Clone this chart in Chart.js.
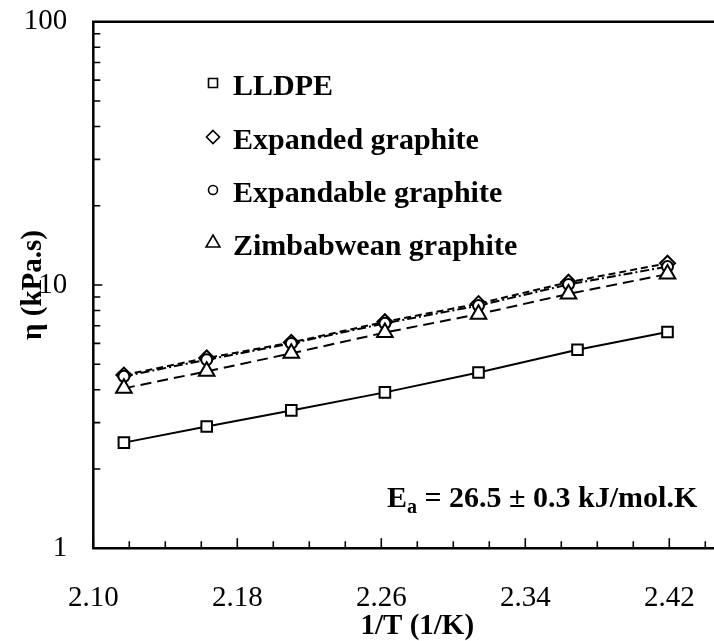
<!DOCTYPE html>
<html>
<head>
<meta charset="utf-8">
<script src="https://cdn.jsdelivr.net/npm/chart.js@4/dist/chart.umd.min.js"></script>
<style>
  html, body { margin: 0; padding: 0; background: #fff; overflow: hidden; }
  #wrap { width: 800px; height: 641px; }
</style>
</head>
<body>
<div id="wrap"><canvas id="c" width="800" height="641"></canvas></div>
<script>
// Reciprocal temperature (1000/T, 1/K) for each measurement
const invTemp      = [2.117, 2.163, 2.210, 2.262, 2.314, 2.364, 2.419];
const invTempLLDPE = [2.117, 2.163, 2.210, 2.262, 2.314, 2.369, 2.419];

// Zero-shear viscosity, kPa.s
const lldpe      = [2.52, 2.90, 3.34, 3.91, 4.65, 5.68, 6.63];
const expanded   = [4.55, 5.28, 6.05, 7.25, 8.50, 10.25, 12.10];
const expandable = [4.50, 5.20, 6.00, 7.15, 8.35, 10.05, 11.75];
const zimbabwean = [4.05, 4.70, 5.50, 6.60, 7.75, 9.25, 11.00];

const seriesNames = ['LLDPE', 'Expanded graphite', 'Expandable graphite', 'Zimbabwean graphite'];
const xTickLabels = ['2.10', '2.18', '2.26', '2.34', '2.42'];
const yTickLabels = ['1', '10', '100'];

const SERIF = '"Liberation Serif", "Times New Roman", serif';

const pts = (xs, ys) => xs.map((x, i) => ({ x: x, y: ys[i] }));

function markerDataset(label, data, style, radius, dash, order) {
  return {
    label: label,
    data: data,
    showLine: true,
    borderColor: '#000',
    borderWidth: 2,
    borderDash: dash,
    pointStyle: style,
    pointRadius: radius,
    pointHoverRadius: radius,
    pointBackgroundColor: '#fff',
    pointBorderColor: '#000',
    pointBorderWidth: 2,
    order: order,
    tension: 0
  };
}

function drawMarker(ctx, style, x, y, r) {
  ctx.beginPath();
  if (style === 'rect') {
    ctx.rect(x - r, y - r, 2 * r, 2 * r);
  } else if (style === 'rectRot') {
    ctx.moveTo(x, y - r); ctx.lineTo(x + r, y); ctx.lineTo(x, y + r); ctx.lineTo(x - r, y); ctx.closePath();
  } else if (style === 'circle') {
    ctx.arc(x, y, r, 0, Math.PI * 2);
  } else {
    ctx.moveTo(x, y - r); ctx.lineTo(x + r * 0.866, y + r / 2); ctx.lineTo(x - r * 0.866, y + r / 2); ctx.closePath();
  }
  ctx.fillStyle = '#fff';
  ctx.fill();
  ctx.stroke();
}

// Axes frame, inward tick marks, axis titles, legend and the activation-energy note
const decorPlugin = {
  id: 'decor',
  afterDraw(chart) {
    const ctx = chart.ctx;
    const a = chart.chartArea;
    const xs = chart.scales.x, ys = chart.scales.y;
    ctx.save();
    ctx.strokeStyle = '#000';
    ctx.lineWidth = 2.5;
    ctx.beginPath();
    ctx.moveTo(a.right, a.top); ctx.lineTo(a.left, a.top);
    ctx.lineTo(a.left, a.bottom); ctx.lineTo(a.right, a.bottom);
    ctx.stroke();

    ctx.lineWidth = 1.6;
    ctx.beginPath();
    for (let k = 0; k <= 18; k++) {
      const v = 2.10 + k * 0.02;
      const px = xs.getPixelForValue(v);
      const len = (k % 4 === 0) ? 10 : 7;
      ctx.moveTo(px, a.bottom); ctx.lineTo(px, a.bottom - len);
    }
    for (let d = 0; d < 2; d++) {
      for (let m = 2; m <= 9; m++) {
        const py = ys.getPixelForValue(m * Math.pow(10, d));
        ctx.moveTo(a.left, py); ctx.lineTo(a.left + 7, py);
      }
    }
    const p10 = ys.getPixelForValue(10);
    ctx.moveTo(a.left, p10); ctx.lineTo(a.left + 9, p10);
    ctx.stroke();

    ctx.fillStyle = '#000';
    // x title
    ctx.font = 'bold 29px ' + SERIF;
    ctx.textAlign = 'center';
    ctx.textBaseline = 'alphabetic';
    ctx.fillText('1/T (1/K)', (a.left + a.right) / 2, 634);
    // y title
    ctx.save();
    ctx.translate(41, (a.top + a.bottom) / 2);
    ctx.rotate(-Math.PI / 2);
    ctx.fillText('\u03B7 (kPa.s)', 0, 0);
    ctx.restore();

    // legend
    const styles = ['rect', 'rectRot', 'circle', 'triangle'];
    const radii = [4.5, 6.5, 4.5, 8];
    const baselines = [95, 149, 202, 255];
    ctx.font = 'bold 30px ' + SERIF;
    ctx.textAlign = 'left';
    ctx.lineWidth = 1.6;
    for (let i = 0; i < seriesNames.length; i++) {
      drawMarker(ctx, styles[i], 213, baselines[i] - 12, radii[i]);
      ctx.fillStyle = '#000';
      ctx.fillText(seriesNames[i], 233, baselines[i]);
    }

    // activation energy
    let tx = 387;
    const ty = 507;
    ctx.font = 'bold 30px ' + SERIF;
    ctx.fillText('E', tx, ty);
    tx += ctx.measureText('E').width;
    ctx.font = 'bold 20px ' + SERIF;
    ctx.fillText('a', tx, ty + 6);
    tx += ctx.measureText('a').width;
    ctx.font = 'bold 30px ' + SERIF;
    ctx.fillText(' = 26.5 \u00B1 0.3 kJ/mol.K', tx, ty);
    ctx.restore();
  }
};

new Chart(document.getElementById('c'), {
  type: 'scatter',
  data: {
    datasets: [
      markerDataset(seriesNames[0], pts(invTempLLDPE, lldpe), 'rect', 7.5, [], 3),
      markerDataset(seriesNames[1], pts(invTemp, expanded), 'rectRot', 7.5, [7, 4], 2),
      markerDataset(seriesNames[2], pts(invTemp, expandable), 'circle', 5.5, [9, 3, 2, 3], 1),
      markerDataset(seriesNames[3], pts(invTemp, zimbabwean), 'triangle', 9, [11, 6], 0)
    ]
  },
  options: {
    responsive: false,
    animation: false,
    events: [],
    layout: { padding: { left: 0, top: 21.7, right: 58.7, bottom: 0 } },
    plugins: { legend: { display: false }, tooltip: { enabled: false } },
    scales: {
      x: {
        type: 'linear',
        min: 2.10,
        max: 2.46,
        afterBuildTicks(s) { s.ticks = xTickLabels.map(t => ({ value: Number(t) })); },
        afterFit(s) { s.height = 641 - 548.3; },
        grid: { display: false, drawTicks: false },
        border: { display: false },
        ticks: {
          padding: 33,
          color: '#000',
          font: { family: SERIF, size: 29 },
          maxRotation: 0,
          autoSkip: false,
          callback(v) { return Number(v).toFixed(2); }
        }
      },
      y: {
        type: 'logarithmic',
        min: 1,
        max: 100,
        afterBuildTicks(s) { s.ticks = yTickLabels.map(t => ({ value: Number(t), major: true })); },
        afterFit(s) { s.width = 93.3; s.paddingTop = 0; s.paddingBottom = 0; },
        grid: { display: false, drawTicks: false },
        border: { display: false },
        ticks: {
          padding: 26,
          color: '#000',
          font: { family: SERIF, size: 29 },
          autoSkip: false,
          callback(v) { return String(Math.round(v)); }
        }
      }
    }
  },
  plugins: [decorPlugin]
});
</script>
</body>
</html>
